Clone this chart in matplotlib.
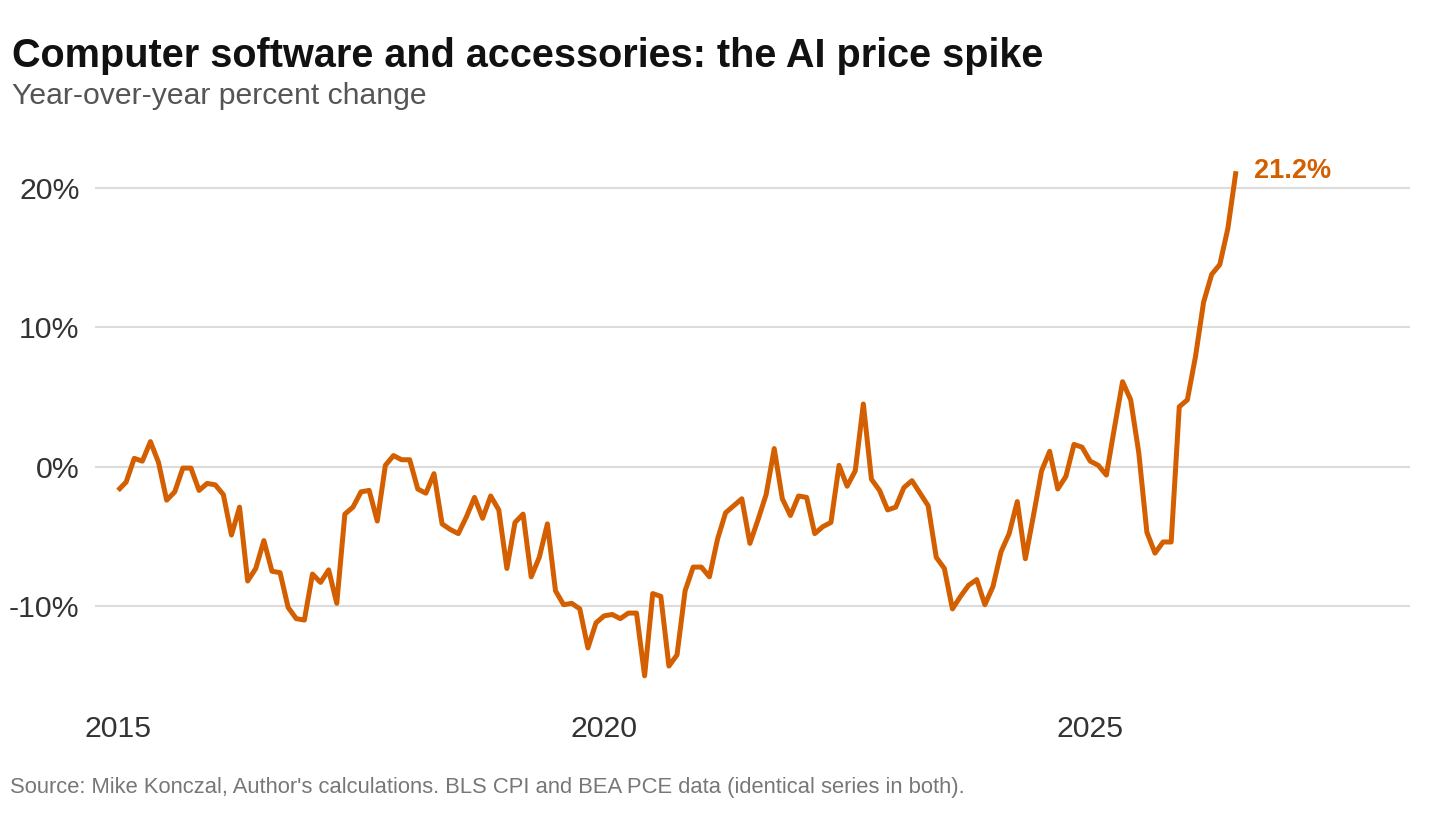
import numpy as np
import matplotlib
matplotlib.use("Agg")
import matplotlib.pyplot as plt

plt.rcParams['font.family'] = ['Liberation Sans', 'DejaVu Sans']

# monthly YoY % change, Jan 2015 onward
start_year = 2015
yoy = [
    -1.7, -1.1, 0.6, 0.4, 1.8, 0.3, -2.4, -1.8, -0.1, -0.1, -1.7, -1.2,
    -1.3, -2.0, -4.9, -2.9, -8.2, -7.3, -5.3, -7.5, -7.6, -10.1, -10.9, -11.0,
    -7.7, -8.3, -7.4, -9.8, -3.4, -2.9, -1.8, -1.7, -3.9, 0.1, 0.8, 0.5,
    0.5, -1.6, -1.9, -0.5, -4.1, -4.5, -4.8, -3.6, -2.2, -3.7, -2.1, -3.1,
    -7.3, -4.0, -3.4, -7.9, -6.5, -4.1, -8.9, -9.9, -9.8, -10.2, -13.0, -11.2,
    -10.7, -10.6, -10.9, -10.5, -10.5, -15.0, -9.1, -9.3, -14.3, -13.5, -8.9, -7.2,
    -7.2, -7.9, -5.2, -3.3, -2.8, -2.3, -5.5, -3.8, -2.0, 1.3, -2.3, -3.5,
    -2.1, -2.2, -4.8, -4.3, -4.0, 0.1, -1.4, -0.3, 4.5, -0.9, -1.7, -3.1,
    -2.9, -1.5, -1.0, -1.9, -2.8, -6.5, -7.3, -10.2, -9.3, -8.5, -8.1, -9.9,
    -8.6, -6.1, -4.8, -2.5, -6.6, -3.5, -0.3, 1.1, -1.6, -0.7, 1.6, 1.4,
    0.4, 0.1, -0.6, 2.8, 6.1, 4.8, 1.0, -4.7, -6.2, -5.4, -5.4, 4.3,
    4.8, 7.9, 11.8, 13.8, 14.5, 17.1, 21.2,
]
year_ticks = [2015, 2020, 2025]
pct_ticks = [-10, 0, 10, 20]
last_label = "21.2%"

orange = '#d35f00'

x = start_year + np.arange(len(yoy)) / 12.0

fig = plt.figure(figsize=(14.56, 8.19), dpi=100)
ax = fig.add_axes([95/1456, 0.1408, (1410-95)/1456, 0.8216-0.1408])

ax.plot(x, yoy, color=orange, lw=3.6, solid_joinstyle='round', solid_capstyle='butt', zorder=3)
ax.annotate(last_label, xy=(x[-1], yoy[-1]), xytext=(13, 0), textcoords='offset points',
            color=orange, fontsize=19.5, fontweight='bold', ha='left', va='center')

ax.set_xlim(2014.763, 2028.29)
ax.set_ylim(-17, 23)
ax.set_xticks(year_ticks)
ax.set_xticklabels([str(y) for y in year_ticks])
ax.set_yticks(pct_ticks)
ax.set_yticklabels([f"{p}%" for p in pct_ticks])
ax.grid(axis='y', color='#dcdcdc', lw=1.5, zorder=0)
ax.grid(axis='x', visible=False)
for s in ax.spines.values():
    s.set_visible(False)
ax.tick_params(axis='both', length=0, labelsize=21.8, colors='#333333')
ax.tick_params(axis='y', pad=11)
ax.tick_params(axis='x', pad=8)

fig.text(12/1456, 1-66.7/819, "Computer software and accessories: the AI price spike",
         fontsize=28.5, fontweight='bold', color='#111111', va='baseline', ha='left')
fig.text(12/1456, 1-104/819, "Year-over-year percent change",
         fontsize=21.7, color='#555555', va='baseline', ha='left')
fig.text(10/1456, 1-792.7/819,
         "Source: Mike Konczal, Author's calculations. BLS CPI and BEA PCE data (identical series in both).",
         fontsize=15.8, color='#777777', va='baseline', ha='left')

fig.savefig("out.png", dpi=100, facecolor='white')
